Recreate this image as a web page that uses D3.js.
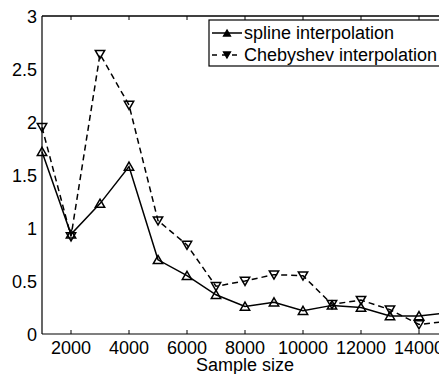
<!DOCTYPE html>
<html><head><meta charset="utf-8">
<script src="https://cdn.jsdelivr.net/npm/d3@7"></script>
<style>body{margin:0;background:#fff}svg{display:block;font-family:"Liberation Sans",Arial,sans-serif}</style>
</head><body>
<script>
const sampleSizes = [1000,2000,3000,4000,5000,6000,7000,8000,9000,10000,11000,12000,13000,14000,15000];
const splineErr = [1.72,0.94,1.23,1.58,0.70,0.55,0.37,0.26,0.30,0.22,0.27,0.25,0.17,0.17,0.20];
const chebErr   = [1.95,0.92,2.64,2.16,1.07,0.84,0.45,0.50,0.56,0.55,0.28,0.32,0.23,0.09,0.12];
const xTicks = [2000,4000,6000,8000,10000,12000,14000];
const yTicks = [0,0.5,1,1.5,2,2.5,3];
const seriesNames = ["spline interpolation","Chebyshev interpolation"];

const W=439,H=374;
const svg=d3.select("body").append("svg").attr("width",W).attr("height",H);
const x=d3.scaleLinear().domain([1000,15000]).range([42,448]);
const y=d3.scaleLinear().domain([0,3]).range([334,16]);
const fs=18;

const g=svg.append("g");
g.append("line").attr("x1",42).attr("x2",448).attr("y1",334).attr("y2",334).attr("stroke","#000").attr("stroke-width",1.2);
g.append("line").attr("x1",42).attr("x2",448).attr("y1",16).attr("y2",16).attr("stroke","#000").attr("stroke-width",1.6);
g.append("line").attr("x1",42).attr("x2",42).attr("y1",16).attr("y2",334).attr("stroke","#000").attr("stroke-width",1.2);

xTicks.forEach(t=>{
  g.append("line").attr("x1",x(t)).attr("x2",x(t)).attr("y1",334).attr("y2",330).attr("stroke","#000");
  g.append("line").attr("x1",x(t)).attr("x2",x(t)).attr("y1",16).attr("y2",20).attr("stroke","#000");
  g.append("text").attr("x",x(t)).attr("y",354).attr("text-anchor","middle").attr("font-size",fs).text(t);
});
yTicks.forEach(t=>{
  g.append("text").attr("x",37).attr("y",y(t)+7).attr("text-anchor","end").attr("font-size",fs).text(t);
});
g.append("text").attr("x",245).attr("y",371).attr("text-anchor","middle").attr("font-size",fs).text("Sample size");

const line=d3.line().x((d,i)=>x(sampleSizes[i])).y(d=>y(d));
const up=d3.symbol().type(d3.symbolTriangle).size(38);
const upSmall=d3.symbol().type(d3.symbolTriangle).size(22);
function drawSeries(vals,dash,dir){
  svg.append("path").datum(vals).attr("d",line).attr("fill","none").attr("stroke","#000").attr("stroke-width",1.5)
    .attr("stroke-dasharray",dash);
  svg.selectAll(null).data(vals).enter().append("path").attr("d",up)
    .attr("transform",(d,i)=>`translate(${x(sampleSizes[i])},${y(d)+(dir<0?-1:1)}) rotate(${dir<0?180:0})`)
    .attr("fill","none").attr("stroke","#000").attr("stroke-width",1.5);
}
drawSeries(chebErr,"6,4",-1);
drawSeries(splineErr,null,1);

const lg=svg.append("g");
lg.append("rect").attr("x",209).attr("y",20).attr("width",260).attr("height",46).attr("fill","#fff").attr("stroke","#000").attr("stroke-width",1.2);
[[null,1,33],["6,4",-1,55]].forEach(([dash,dir,cy],k)=>{
  lg.append("line").attr("x1",212).attr("x2",242).attr("y1",cy).attr("y2",cy).attr("stroke","#000").attr("stroke-width",1.5).attr("stroke-dasharray",dash?"5,5":null);
  lg.append("path").attr("d",upSmall).attr("transform",`translate(227,${cy+(dir<0?-1:1)}) rotate(${dir<0?180:0})`).attr("fill","#000").attr("stroke","#000").attr("stroke-width",1.2);
  lg.append("text").attr("x",244).attr("y",cy+6).attr("font-size",fs).text(seriesNames[k]);
});
</script>
</body></html>
